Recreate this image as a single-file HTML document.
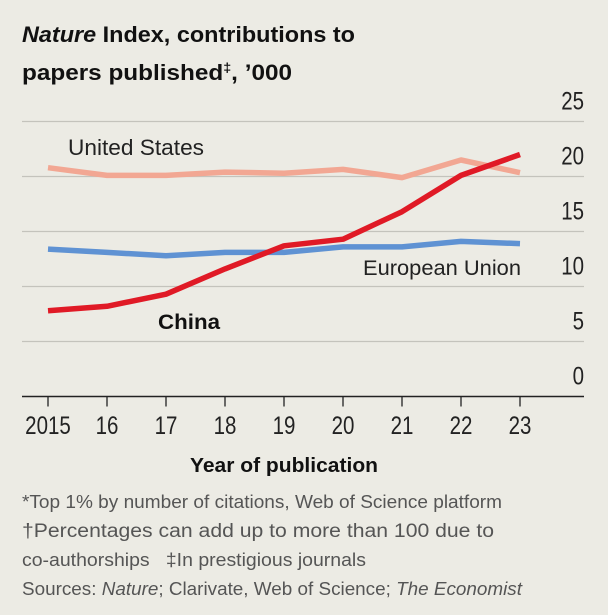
<!DOCTYPE html>
<html><head><meta charset="utf-8"><style>
body{margin:0;background:#ecebe4;width:608px;height:615px;overflow:hidden;font-family:"Liberation Sans",sans-serif;}
svg{display:block}
</style></head><body>
<svg width="608" height="615" id="c">
<text x="22" y="42" font-size="22" font-weight="bold" fill="#111" textLength="333" lengthAdjust="spacingAndGlyphs"><tspan font-style="italic">Nature</tspan> Index, contributions to</text>
<text x="22" y="80" font-size="22" font-weight="bold" fill="#111" textLength="270" lengthAdjust="spacingAndGlyphs">papers published<tspan font-size="13" dy="-8">‡</tspan><tspan dy="8">, ’000</tspan></text>
<g id="grid"></g><g id="lines"></g>
<text x="68" y="155" font-size="22" fill="#222" textLength="136" lengthAdjust="spacingAndGlyphs">United States</text>
<text x="363" y="275" font-size="21" fill="#222" textLength="158" lengthAdjust="spacingAndGlyphs">European Union</text>
<text x="158" y="329" font-size="21" font-weight="bold" fill="#111" textLength="62" lengthAdjust="spacingAndGlyphs">China</text>
<text x="190" y="472" font-size="20" font-weight="bold" fill="#111" textLength="188" lengthAdjust="spacingAndGlyphs">Year of publication</text>
<g font-size="18" fill="#555">
<text x="22" y="508" textLength="480" lengthAdjust="spacingAndGlyphs">*Top 1% by number of citations, Web of Science platform</text>
<text x="22" y="537" font-size="19" textLength="472" lengthAdjust="spacingAndGlyphs">†Percentages can add up to more than 100 due to</text>
<text x="22" y="566" textLength="344" lengthAdjust="spacingAndGlyphs">co-authorships &#160; ‡In prestigious journals</text>
<text x="22" y="595" textLength="500" lengthAdjust="spacingAndGlyphs">Sources: <tspan font-style="italic">Nature</tspan>; Clarivate, Web of Science; <tspan font-style="italic">The Economist</tspan></text>
</g>
</svg>
<script>
const years=[2015,2016,2017,2018,2019,2020,2021,2022,2023];
const yearLabels=["2015","16","17","18","19","20","21","22","23"];
const yTicks=[0,5,10,15,20,25];
const china=[7.8,8.2,9.3,11.6,13.7,14.3,16.8,20.1,22.0];
const us=[20.8,20.1,20.1,20.4,20.3,20.65,19.9,21.5,20.35];
const eu=[13.4,13.1,12.8,13.1,13.1,13.6,13.6,14.1,13.9];
const NS="http://www.w3.org/2000/svg";
const X=y=>48+(y-2015)*59, Y=v=>396.5-11*v;
const grid=document.getElementById('grid'), lines=document.getElementById('lines');
function mk(tag,at,p){const e=document.createElementNS(NS,tag);for(const k in at)e.setAttribute(k,at[k]);p.appendChild(e);return e;}
yTicks.forEach(t=>{
  if(t>0){const l=mk('line',{x1:22,x2:584,y1:Y(t),y2:Y(t),stroke:'#c4c3bc','stroke-width':1.3},grid);
  
  }
  const tx=mk('text',{x:584,y:Y(t)-12,'font-size':25,fill:'#222','text-anchor':'end',transform:'translate(584 0) scale(0.82 1) translate(-584 0)'},grid);tx.textContent=t;
  
  
});
const ax=mk('line',{x1:22,x2:584,y1:Y(0),y2:Y(0),stroke:'#222','stroke-width':1.6},grid);


years.forEach((y,i)=>{
  const tk=mk('line',{x1:X(y),x2:X(y),y1:Y(0),y2:Y(0)+10,stroke:'#222','stroke-width':1.3},grid);
  
  
  const tx=mk('text',{x:X(y),y:434,'font-size':25,fill:'#222','text-anchor':'middle',transform:`translate(${X(y)} 0) scale(0.82 1) translate(${-X(y)} 0)`},grid);tx.textContent=yearLabels[i];
  
  
});
function series(d,col,w,name){
  const p=mk('polyline',{points:d.map((v,i)=>X(years[i])+','+Y(v)).join(' '),fill:'none',stroke:col,'stroke-width':w,'stroke-linejoin':'round'},lines);
  
  
}
series(us,'#f2a793',5.5,'line-united-states');
series(eu,'#5f92d3',5.5,'line-european-union');
series(china,'#e01a26',5.5,'line-china');
</script>
</body></html>
